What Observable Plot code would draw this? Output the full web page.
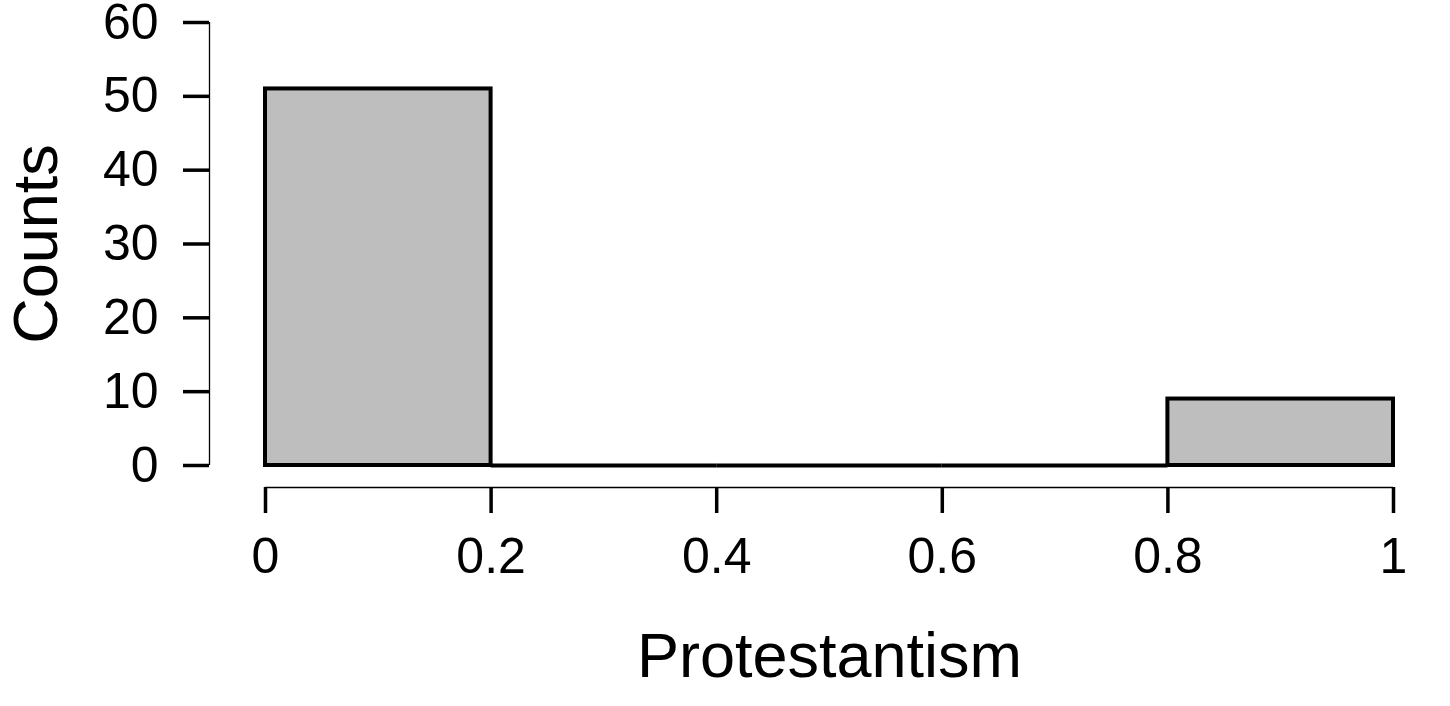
<!DOCTYPE html>
<html>
<head>
<meta charset="utf-8">
<script src="https://cdn.jsdelivr.net/npm/d3@7"></script>
<script src="https://cdn.jsdelivr.net/npm/@observablehq/plot@0.6"></script>
<style>
  html, body { margin: 0; padding: 0; background: #ffffff; }
  #chart svg { display: block; }
</style>
</head>
<body>
<div id="chart"></div>
<script>
// Histogram of Protestantism
const binLo = [0.0, 0.2, 0.4, 0.6, 0.8];
const binHi = [0.2, 0.4, 0.6, 0.8, 1.0];
const counts = [51, 0, 0, 0, 9];
const xTicks = [0, 0.2, 0.4, 0.6, 0.8, 1];
const yTicks = [0, 10, 20, 30, 40, 50, 60];
const xLabel = "Protestantism";
const yLabel = "Counts";

const bins = binLo.map((lo, i) => ({lo, hi: binHi[i], count: counts[i]}));
const nonEmpty = bins.filter(d => d.count > 0);
const empty = bins.filter(d => d.count === 0);

const font = "'Liberation Sans', Arial, Helvetica, sans-serif";

const chart = Plot.plot({
  width: 1450,
  height: 706,
  marginLeft: 265,
  marginRight: 57,
  marginTop: 22,
  marginBottom: 241,
  style: {fontFamily: font, background: "#ffffff", color: "#000000"},
  x: {domain: [0, 1]},
  y: {domain: [0, 60]},
  marks: [
    // axis lines (offset like base R)
    Plot.ruleX([0], {y1: 0, y2: 60, dx: -56, stroke: "#000", strokeWidth: 1.3}),
    Plot.ruleY([0], {x1: 0, x2: 1, dy: 22, stroke: "#000", strokeWidth: 1.3}),
    Plot.axisY({
      ticks: yTicks, tickSize: 26, tickPadding: 25, dx: -56,
      fontSize: 50, strokeWidth: 3.5, label: null, tickFormat: d => String(d)
    }),
    Plot.axisX({
      ticks: xTicks, tickSize: 26, tickPadding: 24, dy: 22,
      fontSize: 50, strokeWidth: 3.5, label: null, tickFormat: d => String(d)
    }),
    Plot.rect(nonEmpty, {
      x1: "lo", x2: "hi", y1: 0, y2: "count",
      fill: "#bebebe", stroke: "#000", strokeWidth: 4, inset: 0
    }),
    Plot.ruleY(empty, {x1: "lo", x2: "hi", y: "count", stroke: "#000", strokeWidth: 4}),
    Plot.text([xLabel], {
      frameAnchor: "bottom", lineAnchor: "bottom", textAnchor: "middle", dy: 211,
      fontSize: 63, fill: "#000"
    }),
    Plot.text([yLabel], {
      frameAnchor: "left", lineAnchor: "bottom", textAnchor: "middle", rotate: -90, dx: -209,
      fontSize: 63, fill: "#000"
    })
  ]
});

document.getElementById("chart").appendChild(chart);
</script>
</body>
</html>
